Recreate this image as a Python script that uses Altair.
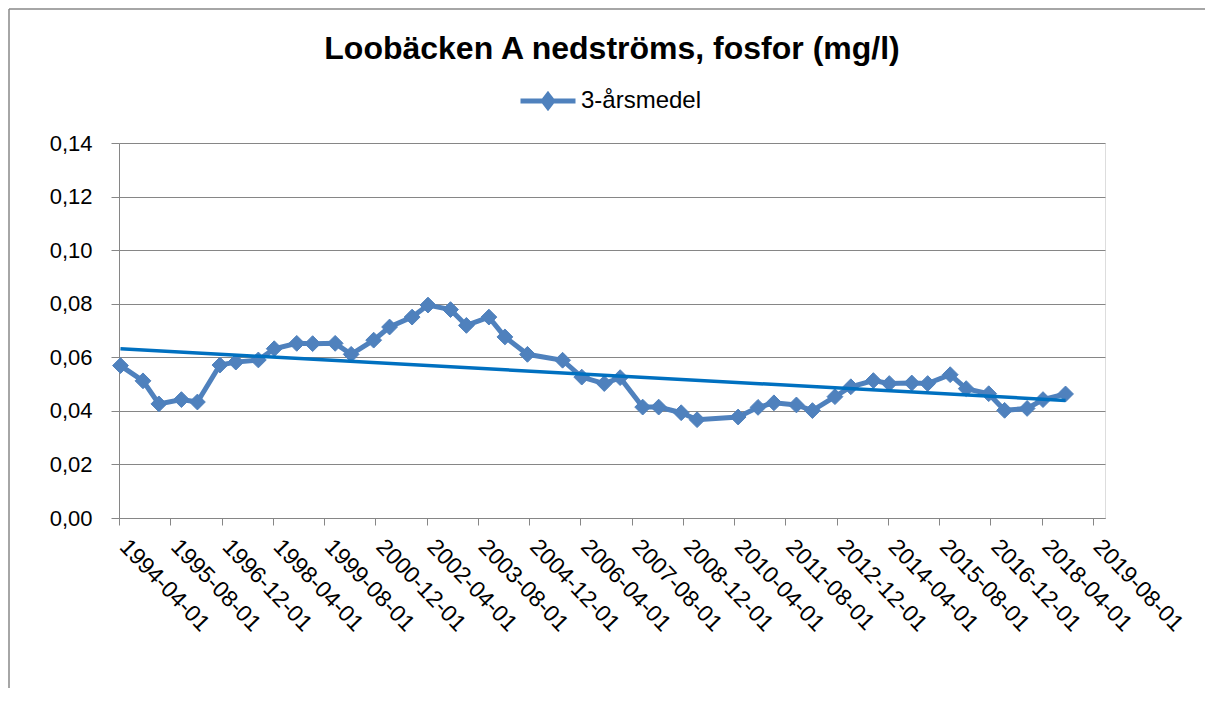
import altair as alt
import pandas as pd

SERIES = "3-årsmedel"

dates = [
    "1994-04-15", "1994-11-15", "1995-04-15", "1995-11-15", "1996-04-15", "1996-11-15",
    "1997-04-15", "1997-11-15", "1998-04-15", "1998-11-15", "1999-04-15", "1999-11-15",
    "2000-04-15", "2000-11-15", "2001-04-15", "2001-11-15", "2002-04-15", "2002-11-15",
    "2003-04-15", "2003-11-15", "2004-04-15", "2004-11-15", "2005-10-15", "2006-04-15",
    "2006-11-15", "2007-04-15", "2007-11-15", "2008-04-15", "2008-11-15", "2009-04-15",
    "2010-05-10", "2010-11-15", "2011-04-15", "2011-11-15", "2012-04-15", "2012-11-15",
    "2013-04-15", "2013-11-15", "2014-04-15", "2014-11-15", "2015-04-15", "2015-11-15",
    "2016-04-15", "2016-11-15", "2017-04-15", "2017-11-15", "2018-04-15", "2018-11-15",
]
values = [
    0.0569, 0.0512, 0.0426, 0.0442, 0.0433, 0.0571,
    0.0582, 0.0590, 0.0632, 0.0652, 0.0651, 0.0652,
    0.0611, 0.0664, 0.0713, 0.0750, 0.0795, 0.0778,
    0.0719, 0.0750, 0.0676, 0.0611, 0.0589, 0.0526,
    0.0502, 0.0524, 0.0414, 0.0414, 0.0393, 0.0367,
    0.0377, 0.0413, 0.0430, 0.0422, 0.0401, 0.0453,
    0.0490, 0.0513, 0.0502, 0.0504, 0.0502, 0.0535,
    0.0483, 0.0464, 0.0402, 0.0409, 0.0442, 0.0463,
]

tick_labels = [
    "1994-04-01", "1995-08-01", "1996-12-01", "1998-04-01", "1999-08-01",
    "2000-12-01", "2002-04-01", "2003-08-01", "2004-12-01", "2006-04-01",
    "2007-08-01", "2008-12-01", "2010-04-01", "2011-08-01", "2012-12-01",
    "2014-04-01", "2015-08-01", "2016-12-01", "2018-04-01", "2019-08-01",
]
y_ticks = [0.0, 0.02, 0.04, 0.06, 0.08, 0.10, 0.12, 0.14]
title_text = "Loobäcken A nedströms, fosfor (mg/l)"


def dt(s):
    y, m, d = (int(p) for p in s.split("-"))
    return alt.DateTime(year=y, month=m, date=d, utc=True)


df = pd.DataFrame({"date": dates, "value": values, "series": [SERIES] * len(dates)})

GRID = "#868686"
SERIES_COLOR = "#4F81BD"
TREND_COLOR = "#0070C0"
FONT = "Liberation Sans"

x_enc = alt.X(
    "date:T",
    scale=alt.Scale(type="utc", domain=[dt("1994-04-01"), dt("2019-11-25")]),
    axis=alt.Axis(
        values=[dt(t) for t in tick_labels],
        labelExpr="utcFormat(datum.value, '%Y-%m-%d')",
        labelAngle=46,
        labelAlign="left",
        labelBaseline="top",
        labelOverlap=False,
        labelBound=False,
        labelFlush=False,
        labelFont=FONT,
        labelFontSize=23,
        labelColor="black",
        labelPadding=10,
        labelOffset=12,
        tickSize=7,
        tickColor=GRID,
        domainColor=GRID,
        grid=False,
        title=None,
    ),
)
y_enc = alt.Y(
    "value:Q",
    scale=alt.Scale(domain=[0, 0.14], nice=False, zero=True),
    axis=alt.Axis(
        values=y_ticks,
        labelExpr="replace(format(datum.value, '.2f'), '.', ',')",
        labelFont=FONT,
        labelFontSize=22,
        labelColor="black",
        labelPadding=19,
        tickSize=8,
        tickColor=GRID,
        domainColor=GRID,
        gridColor=GRID,
        gridWidth=1,
        title=None,
    ),
)

legend_path = (
    "M-1,0L1,0"
    "M0,-0.22L0.17,0L0,0.22L-0.17,0Z"
    "M0,-0.08L0.06,0L0,0.08L-0.06,0Z"
)

base = alt.Chart(df)

line = base.mark_line(strokeWidth=5).encode(
    x=x_enc,
    y=y_enc,
    color=alt.Color(
        "series:N",
        scale=alt.Scale(domain=[SERIES], range=[SERIES_COLOR]),
        legend=alt.Legend(
            title=None,
            orient="none",
            legendX=399,
            legendY=-72,
            padding=0,
            symbolType=legend_path,
            symbolSize=3025,
            symbolStrokeWidth=5,
            symbolFillColor=SERIES_COLOR,
            symbolStrokeColor=SERIES_COLOR,
            symbolOpacity=1,
            labelFont=FONT,
            labelFontSize=24,
            labelColor="black",
            labelOffset=3,
        ),
    ),
)

points = base.mark_point(
    shape="diamond", filled=True, size=250, color=SERIES_COLOR, opacity=1,
    stroke=SERIES_COLOR, strokeWidth=1,
).encode(x="date:T", y="value:Q")

trend = base.transform_regression("date", "value", method="linear").mark_line(
    color=TREND_COLOR, strokeWidth=3.5
).encode(x="date:T", y="value:Q")

frame_df = pd.DataFrame({"f": [0]})
frame_top = alt.Chart(frame_df).mark_rule(color="#898989", strokeWidth=1.5).encode(
    x=alt.value(-110), x2=alt.value(1100), y=alt.value(-134)
)
frame_left = alt.Chart(frame_df).mark_rule(color="#898989", strokeWidth=1.5).encode(
    x=alt.value(-110), y=alt.value(-134), y2=alt.value(700)
)

chart = (
    alt.layer(frame_top, frame_left, line, points, trend)
    .properties(
        width=986,
        height=375,
        title=alt.TitleParams(
            text=title_text,
            font=FONT,
            fontSize=32,
            fontWeight="bold",
            color="black",
            anchor="middle",
            frame="group",
            offset=0,
            dy=58,
        ),
        autosize=alt.AutoSizeParams(type="none"),
        padding={"left": 111, "top": 135, "right": 100, "bottom": 170},
    )
    .configure_view(stroke=None)
    .configure(background="white")
)

chart.save("out.html", embed_options={"renderer": "svg", "actions": False})
